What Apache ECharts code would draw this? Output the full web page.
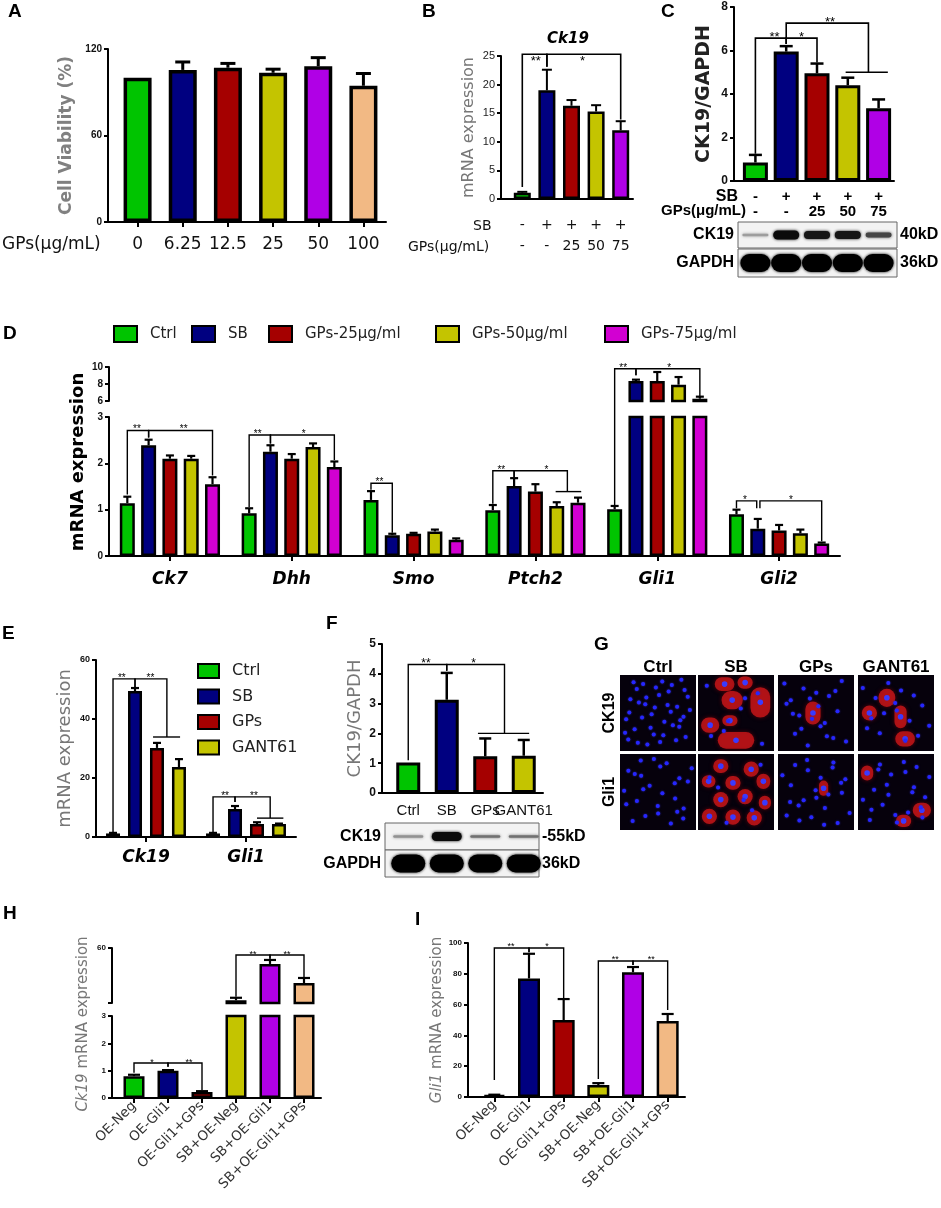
<!DOCTYPE html>
<html>
<head>
<meta charset="utf-8">
<script src="https://cdn.jsdelivr.net/npm/echarts@6/dist/echarts.min.js"></script>
<style>
html, body { margin: 0; padding: 0; background: #fff; }
#main { width: 941px; height: 1208px; }
</style>
</head>
<body>
<div id="main"></div>
<script>
var GREEN = '#00c400', NAVY = '#000080', RED = '#a50000', OLIVE = '#c4c400',
    PURPLE = '#b000e6', MAGENTA = '#d200d2', PEACH = '#f2b984';
var SANS = 'Liberation Sans, Arial, sans-serif';
var WIDE = 'DejaVu Sans, sans-serif';

// ---- A: cell viability
var doseA = ['0', '6.25', '12.5', '25', '50', '100'];
var viabA = [100, 105.5, 107, 103.5, 108, 94.5];
var viabSdA = [0, 5.5, 3, 2.5, 6, 8.5];

// ---- B: Ck19 mRNA
var sbB = ['-', '+', '+', '+', '+'];
var gpsB = ['-', '-', '25', '50', '75'];
var ck19B = [1.1, 19, 16.3, 15.3, 12];
var ck19SdB = [0.15, 3.6, 1.0, 1.1, 1.6];

// ---- C: CK19/GAPDH western
var ck19C = [0.85, 5.95, 4.95, 4.4, 3.35];
var ck19SdC = [0.35, 0.25, 0.45, 0.35, 0.4];
var bandCk19C = [0.3, 0.95, 0.9, 0.9, 0.7];
var bandGapdhC = [1, 1, 1, 1, 1];

// ---- D: hedgehog genes
var genesD = ['Ck7', 'Dhh', 'Smo', 'Ptch2', 'Gli1', 'Gli2'];
var groupsD = ['Ctrl', 'SB', 'GPs-25μg/ml', 'GPs-50μg/ml', 'GPs-75μg/ml'];
var ctrlD = [1.14, 0.92, 1.21, 0.99, 1.01, 0.9];
var sbD = [2.39, 2.25, 0.45, 1.51, 8.35, 0.59];
var gps25D = [2.1, 2.1, 0.48, 1.39, 8.35, 0.55];
var gps50D = [2.1, 2.35, 0.53, 1.08, 7.92, 0.49];
var gps75D = [1.55, 1.92, 0.35, 1.15, 6.27, 0.27];
var ctrlSdD = [0.14, 0.11, 0.19, 0.11, 0.07, 0.1];
var sbSdD = [0.12, 0.14, 0.03, 0.17, 0.16, 0.21];
var gps25SdD = [0.07, 0.1, 0.02, 0.16, 1.06, 0.12];
var gps50SdD = [0.06, 0.08, 0.04, 0.08, 0.9, 0.08];
var gps75SdD = [0.15, 0.12, 0.03, 0.11, 0.24, 0.02];

// ---- E: Ck19 / Gli1 with GANT61
var genesE = ['Ck19', 'Gli1'];
var groupsE = ['Ctrl', 'SB', 'GPs', 'GANT61'];
var ctrlE = [1.2, 1.2], sbE = [49.5, 9.5], gpsE = [30.2, 4.4], gantE = [23.7, 4.4];
var ctrlSdE = [0.2, 0.2], sbSdE = [1.0, 1.0], gpsSdE = [1.7, 0.6], gantSdE = [2.7, 0.15];

// ---- F: CK19/GAPDH western
var catsF = ['Ctrl', 'SB', 'GPs', 'GANT61'];
var ck19F = [1.02, 3.13, 1.23, 1.25];
var ck19SdF = [0, 0.9, 0.6, 0.53];
var bandCk19F = [0.35, 0.95, 0.5, 0.5];
var bandGapdhF = [1, 1, 1, 1];

// ---- H / I: Gli1 overexpression
var catsHI = ['OE-Neg', 'OE-Gli1', 'OE-Gli1+GPs', 'SB+OE-Neg', 'SB+OE-Gli1', 'SB+OE-Gli1+GPs'];
var ck19H = [0.8, 1.0, 0.22, 22, 48.4, 34.5];
var ck19SdH = [0.05, 0.02, 0.03, 1.8, 2.9, 3.7];
var gli1I = [1.2, 77, 50, 7.8, 81, 49.3];
var gli1SdI = [0.3, 16, 13.6, 1.2, 3.4, 4.6];

// significance brackets: points [category, value, subBar, gridOverride]
var sig = [
  {g: 1, pts: [[0, 2.1], [0, 25.3], [1, 25.3], [1, 23.1]], t: '**', at: [0.55, 24.0]},
  {g: 1, pts: [[1, 23.1], [1, 25.3], [4, 25.3], [4, 13.9]], t: '*', at: [2.45, 24.0]},
  {g: 2, pts: [[0, 1.25], [0, 6.57], [1, 6.57], [1, 6.3]], t: '**', at: [0.62, 6.6]},
  {g: 2, pts: [[1, 6.3], [1, 6.57], [2, 6.57], [2, 5.45]], t: '*', at: [1.5, 6.6]},
  {g: 2, pts: [[1, 6.57], [1, 7.26], [3.67, 7.26], [3.67, 5.0]], t: '**', at: [2.42, 7.3]},
  {g: 2, pts: [[2.93, 5.0], [4.3, 5.0]], t: ''},
  {g: 3, pts: [[0, 1.33, -2], [0, 2.71, -2], [0, 2.71, -1], [0, 2.56, -1]], t: '**', at: [0, 2.73, -1.55]},
  {g: 3, pts: [[0, 2.56, -1], [0, 2.71, -1], [0, 2.71, 2], [0, 1.74, 2]], t: '**', at: [0, 2.73, 0.65]},
  {g: 3, pts: [[1, 1.06, -2], [1, 2.61, -2], [1, 2.61, -1], [1, 2.43, -1]], t: '**', at: [1, 2.63, -1.6]},
  {g: 3, pts: [[1, 2.43, -1], [1, 2.61, -1], [1, 2.61, 2], [1, 2.07, 2]], t: '*', at: [1, 2.63, 0.56]},
  {g: 3, pts: [[2, 1.43, -2], [2, 1.57, -2], [2, 1.57, -1], [2, 0.5, -1]], t: '**', at: [2, 1.59, -1.6]},
  {g: 3, pts: [[3, 1.13, -2], [3, 1.84, -2], [3, 1.84, -1], [3, 1.7, -1]], t: '**', at: [3, 1.86, -1.6]},
  {g: 3, pts: [[3, 1.7, -1], [3, 1.84, -1], [3, 1.84, 1.5], [3, 1.39, 1.5]], t: '*', at: [3, 1.86, 0.52]},
  {g: 3, pts: [[3, 1.39, 0.95], [3, 1.39, 2.15]], t: ''},
  {g: 4, pts: [[4, 1.1, -2, 3], [4, 9.8, -2], [4, 9.8, -1], [4, 9.02, -1]], t: '**', at: [4, 9.85, -1.6]},
  {g: 4, pts: [[4, 9.02, -1], [4, 9.8, -1], [4, 9.8, 2], [4, 6.6, 2]], t: '*', at: [4, 9.85, 0.56]},
  {g: 3, pts: [[5, 1.03, -2], [5, 1.19, -2], [5, 1.19, -1.05], [5, 1.03, -1.05]], t: '*', at: [5, 1.21, -1.6]},
  {g: 3, pts: [[5, 1.03, -0.9], [5, 1.19, -0.9], [5, 1.19, 2], [5, 0.32, 2]], t: '*', at: [5, 1.21, 0.56]},
  {g: 5, pts: [[0, 1.5, -1.5], [0, 53.6, -1.5], [0, 53.6, -0.5], [0, 50.8, -0.5]], t: '**', at: [0, 53.8, -1.1]},
  {g: 5, pts: [[0, 50.8, -0.5], [0, 53.6, -0.5], [0, 53.6, 0.95], [0, 33.9, 0.95]], t: '**', at: [0, 53.8, 0.2]},
  {g: 5, pts: [[0, 33.9, 0.32], [0, 33.9, 1.55]], t: ''},
  {g: 5, pts: [[1, 1.5, -1.5], [1, 13.6, -1.5], [1, 13.6, -0.5], [1, 11.9, -0.5]], t: '**', at: [1, 13.8, -0.95]},
  {g: 5, pts: [[1, 11.9, -0.5], [1, 13.6, -0.5], [1, 13.6, 1.1], [1, 6.4, 1.1]], t: '**', at: [1, 13.8, 0.36]},
  {g: 5, pts: [[1, 6.4, 0.5], [1, 6.4, 1.7]], t: ''},
  {g: 6, pts: [[0, 1.1], [0, 4.31], [1, 4.31], [1, 4.1]], t: '**', at: [0.46, 4.33]},
  {g: 6, pts: [[1, 4.1], [1, 4.31], [2.5, 4.31], [2.5, 2.0]], t: '*', at: [1.7, 4.33]},
  {g: 6, pts: [[1.81, 2.0], [3.14, 2.0]], t: ''},
  {g: 7, pts: [[0, 0.92], [0, 1.28], [1, 1.28], [1, 1.14]], t: '*', at: [0.53, 1.3]},
  {g: 7, pts: [[1, 1.14], [1, 1.28], [2, 1.28], [2, 0.28]], t: '**', at: [1.62, 1.3]},
  {g: 8, pts: [[3, 24.6], [3, 54.9], [4, 54.9], [4, 52.2]], t: '**', at: [3.5, 55.5]},
  {g: 8, pts: [[4, 52.2], [4, 54.9], [5, 54.9], [5, 38.9]], t: '**', at: [4.5, 55.5]},
  {g: 9, pts: [[0, 11], [0, 96.8], [1, 96.8], [1, 94]], t: '**', at: [0.48, 97.5]},
  {g: 9, pts: [[1, 94], [1, 96.8], [2, 96.8], [2, 64]], t: '*', at: [1.52, 97.5]},
  {g: 9, pts: [[3, 11.7], [3, 88.3], [4, 88.3], [4, 85.7]], t: '**', at: [3.49, 89]},
  {g: 9, pts: [[4, 85.7], [4, 88.3], [5, 88.3], [5, 56.5]], t: '**', at: [4.53, 89]}
];

// layout
var GRIDS = [
  [115, 49, 271, 173],   // 0 A
  [510, 56, 123, 143],   // 1 B
  [740, 7, 154, 174],    // 2 C
  [109, 417, 731, 139],  // 3 D lower
  [109, 367, 731, 34],   // 4 D upper
  [96, 660, 200, 177],   // 5 E
  [389, 644, 154, 149],  // 6 F
  [117, 1016, 204, 82],  // 7 H lower
  [117, 948, 204, 55],   // 8 H upper
  [477, 943, 208, 154]   // 9 I
];
var YOFF = [7, 9, 6, 0, 0, 0, 7, 5, 5, 9];
var D_BW = 15, D_GAP = 0.42, E_BW = 14, E_GAP = 0.57;
var SUB = {3: D_BW * (1 + D_GAP), 4: D_BW * (1 + D_GAP), 5: E_BW * (1 + E_GAP)};
var STAR = {1: 13, 2: 13, 3: 10, 4: 10, 5: 10, 6: 12, 7: 9, 8: 9, 9: 9};

function font(size, weight, style, fam) {
  return (style || 'normal') + ' ' + (weight || 'normal') + ' ' + size + 'px ' + (fam || SANS);
}

function catAxis(g, data, label, tick) {
  return {
    type: 'category', gridIndex: g, data: data,
    axisLine: {show: true, lineStyle: {color: '#000', width: 2}},
    axisTick: {show: !!tick, length: 5, alignWithLabel: true, lineStyle: {color: '#000', width: 2}},
    axisLabel: Object.assign({interval: 0, hideOverlap: false, color: '#111'}, label),
    splitLine: {show: false}
  };
}
function valAxis(g, min, max, step, label, extra) {
  return Object.assign({
    type: 'value', gridIndex: g, min: min, max: max, interval: step, offset: YOFF[g],
    axisLine: {show: true, lineStyle: {color: '#000', width: 2}},
    axisTick: {show: true, length: 4, lineStyle: {color: '#000', width: 2}},
    axisLabel: Object.assign({margin: 6, color: '#111', fontWeight: 'bold', fontFamily: SANS}, label),
    splitLine: {show: false}
  }, extra || {});
}
function yName(name, gap, size, color, weight) {
  return {
    name: name, nameLocation: 'middle', nameRotate: 90, nameGap: gap,
    nameTextStyle: {fontFamily: WIDE, fontSize: size, color: color, fontWeight: weight || 'normal',
      rich: {i: {fontFamily: WIDE, fontSize: size, color: color, fontStyle: 'italic'}}}
  };
}
function colored(vals, colors) {
  return vals.map(function (v, i) { return {value: v, itemStyle: {color: colors[i]}}; });
}
function bar(g, name, data, color, bw, bwidth, gap) {
  var s = {
    type: 'bar', name: name, xAxisIndex: g, yAxisIndex: g, data: data, barWidth: bw,
    itemStyle: {borderColor: '#000', borderWidth: bwidth}, z: 2, silent: true
  };
  if (color) s.itemStyle.color = color;
  if (gap) s.barGap = gap;
  return s;
}
function errs(g, means, sds, off, cap, lw, keep) {
  var rows = [];
  for (var i = 0; i < means.length; i++) {
    if (sds[i] > 0 && (!keep || keep(means[i], sds[i]))) rows.push([i, means[i], means[i] + sds[i]]);
  }
  return {
    type: 'custom', xAxisIndex: g, yAxisIndex: g, z: 4, silent: true, data: rows,
    renderItem: function (params, api) {
      var a = api.coord([api.value(0), api.value(1)]);
      var b = api.coord([api.value(0), api.value(2)]);
      var x = a[0] + off;
      return {type: 'group', children: [
        {type: 'line', shape: {x1: x, y1: a[1], x2: x, y2: b[1]}, style: {stroke: '#000', lineWidth: lw}},
        {type: 'line', shape: {x1: x - cap / 2, y1: b[1], x2: x + cap / 2, y2: b[1]}, style: {stroke: '#000', lineWidth: lw}}
      ]};
    }
  };
}

var colA = [GREEN, NAVY, RED, OLIVE, PURPLE, PEACH];
var colB = [GREEN, NAVY, RED, OLIVE, PURPLE];
var colD = [GREEN, NAVY, RED, OLIVE, MAGENTA];
var colE = [GREEN, NAVY, RED, OLIVE];

var seriesD = [ctrlD, sbD, gps25D, gps50D, gps75D];
var sdD = [ctrlSdD, sbSdD, gps25SdD, gps50SdD, gps75SdD];
var seriesE = [ctrlE, sbE, gpsE, gantE];
var sdE = [ctrlSdE, sbSdE, gpsSdE, gantSdE];

var series = [];
series.push(bar(0, 'A', colored(viabA, colA), null, 28, 3.5));
series.push(errs(0, viabA, viabSdA, 0, 15, 3));
series.push(bar(1, 'B', colored(ck19B, colB), null, 17, 2.5));
series.push(errs(1, ck19B, ck19SdB, 0, 10, 2));
series.push(bar(2, 'C', colored(ck19C, colB), null, 25, 3));
series.push(errs(2, ck19C, ck19SdC, 0, 13, 2.5));
seriesD.forEach(function (vals, k) {
  var off = (k - 2) * SUB[3];
  series.push(bar(3, groupsD[k], vals, colD[k], D_BW, 2.5, (D_GAP * 100) + '%'));
  series.push(bar(4, groupsD[k], vals, colD[k], D_BW, 2.5, (D_GAP * 100) + '%'));
  series.push(errs(3, vals, sdD[k], off, 8, 2.2, function (m, s) { return m + s <= 3; }));
  series.push(errs(4, vals, sdD[k], off, 8, 2.2, function (m) { return m >= 6; }));
});
seriesE.forEach(function (vals, k) {
  series.push(bar(5, groupsE[k], vals, colE[k], E_BW, 2.5, (E_GAP * 100) + '%'));
  series.push(errs(5, vals, sdE[k], (k - 1.5) * SUB[5], 8, 2.2));
});
series.push(bar(6, 'F', colored(ck19F, colE), null, 24, 3));
series.push(errs(6, ck19F, ck19SdF, 0, 12, 2.5));
series.push(bar(7, 'H', colored(ck19H, colA), null, 21, 2.5));
series.push(bar(8, 'H', colored(ck19H, colA), null, 21, 2.5));
series.push(errs(7, ck19H, ck19SdH, 0, 12, 2.2, function (m) { return m <= 3; }));
series.push(errs(8, ck19H, ck19SdH, 0, 12, 2.2, function (m) { return m >= 20; }));
series.push(bar(9, 'I', colored(gli1I, colA), null, 22, 2.5));
series.push(errs(9, gli1I, gli1SdI, 0, 12, 2.2));

var hideX = function (ax) { ax.show = false; return ax; };
var rotLabel = {rotate: 45, margin: 6, fontSize: 13.5, fontFamily: WIDE, color: '#333'};

var legendText = {fontFamily: WIDE, color: '#222', padding: [0, 0, 0, 8]};
var legX = [113, 191, 268, 435, 604];
var legends = groupsD.map(function (n, k) {
  return {data: [n], left: legX[k], top: 325, padding: 0, itemWidth: 23, itemHeight: 16,
    icon: 'rect', selectedMode: false, textStyle: Object.assign({fontSize: 15}, legendText)};
});
legends.push({data: groupsE, orient: 'vertical', left: 197, top: 663, padding: 0, itemWidth: 21, itemHeight: 14,
  itemGap: 9.5, icon: 'rect', selectedMode: false, textStyle: Object.assign({fontSize: 16}, legendText)});

var option = {
  animation: false,
  backgroundColor: '#fff',
  grid: GRIDS.map(function (g) {
    return {left: g[0], top: g[1], width: g[2], height: g[3], containLabel: false, outerBoundsMode: 'none'};
  }),
  legend: legends,
  xAxis: [
    catAxis(0, doseA, {fontSize: 17, fontFamily: WIDE, margin: 14}, true),
    catAxis(1, sbB.map(function (s, i) { return s + '\n' + gpsB[i]; }),
      {fontSize: 14, fontFamily: WIDE, lineHeight: 21, margin: 16}),
    catAxis(2, sbB.map(function (s, i) { return s + '\n' + gpsB[i]; }),
      {fontSize: 15, fontFamily: SANS, fontWeight: 'bold', lineHeight: 14.5, margin: 9, color: '#000'}),
    catAxis(3, genesD, {fontSize: 17, fontFamily: WIDE, fontWeight: 'bold', fontStyle: 'italic', margin: 15, color: '#000'}, true),
    hideX(catAxis(4, genesD, {})),
    catAxis(5, genesE, {fontSize: 17, fontFamily: WIDE, fontWeight: 'bold', fontStyle: 'italic', margin: 12, color: '#000'}, true),
    catAxis(6, catsF, {fontSize: 15, fontFamily: SANS, margin: 10}),
    catAxis(7, catsHI, rotLabel, true),
    hideX(catAxis(8, catsHI, {})),
    catAxis(9, catsHI, rotLabel, true)
  ],
  yAxis: [
    valAxis(0, 0, 120, 60, {fontSize: 10}, yName('Cell Viability (%)', 33, 17, '#808080', 'bold')),
    valAxis(1, 0, 25, 5, {fontSize: 11, fontWeight: 'normal', color: '#222'}, yName('mRNA expression', 24, 16, '#777')),
    valAxis(2, 0, 8, 2, {fontSize: 12}, yName('CK19/GAPDH', 20, 19, '#222', 'bold')),
    valAxis(3, 0, 3, 1, {fontSize: 10}),
    valAxis(4, 6, 10, 2, {fontSize: 10}),
    valAxis(5, 0, 60, 20, {fontSize: 9}, yName('mRNA expression', 22, 18, '#777')),
    valAxis(6, 0, 5, 1, {fontSize: 12}, yName('CK19/GAPDH', 18, 18, '#777')),
    valAxis(7, 0, 3, 1, {fontSize: 8}),
    valAxis(8, 20, 60, 40, {fontSize: 8, formatter: function (v) { return v === 60 ? '60' : ''; }}),
    valAxis(9, 0, 100, 20, {fontSize: 8}, yName('{i|Gli1} mRNA expression', 19, 15, '#777'))
  ],
  series: series
};

var chart = echarts.init(document.getElementById('main'));
chart.setOption(option);

// ---------- second pass: annotations drawn from the axes' own scales
var els = [];
function px(g, c, v, s) {
  var f = {xAxisIndex: g, yAxisIndex: g};
  var p0 = chart.convertToPixel(f, [0, v]);
  var p1 = chart.convertToPixel(f, [1, v]);
  return [p0[0] + c * (p1[0] - p0[0]) + (s || 0) * (SUB[g] || 0), p0[1]];
}
function T(x, y, s, f, o) {
  o = o || {};
  els.push({type: 'text', x: x, y: y, rotation: o.rot || 0, silent: true, z: 10,
    style: {text: s, font: f, fill: o.fill || '#000', textAlign: o.align || 'left',
      textVerticalAlign: o.va || 'middle', rich: o.rich}});
}
function L(pts, lw) {
  els.push({type: 'polyline', silent: true, z: 6, shape: {points: pts},
    style: {stroke: '#000', lineWidth: lw, fill: null}});
}

// panel letters
[['A', 8, 2], ['B', 422, 2], ['C', 661, 2], ['D', 3, 324], ['E', 2, 624], ['F', 326, 614],
 ['G', 594, 635], ['H', 3, 904], ['I', 415, 910]].forEach(function (p) {
  T(p[1], p[2], p[0], font(19, 'bold'), {va: 'top'});
});

// x-axis joins where the y axis sits off the category band
GRIDS.forEach(function (g, i) {
  if (YOFF[i] && i !== 8) L([[g[0] - YOFF[i], g[1] + g[3]], [g[0] + 1, g[1] + g[3]]], 2);
});

// significance brackets
sig.forEach(function (b) {
  var pts = b.pts.map(function (p) { return px(p[3] != null ? p[3] : b.g, p[0], p[1], p[2]); });
  L(pts, b.g <= 2 ? 1.6 : 1.4);
  if (b.t) {
    var tp = px(b.g, b.at[0], b.at[1], b.at[2]);
    T(tp[0], tp[1], b.t, font(STAR[b.g]), {align: 'center'});
  }
});

// row / title texts
T(2, 245, 'GPs(μg/mL)', font(17, 'normal', 'normal', WIDE), {fill: '#111'});
T(568, 39, 'Ck19', font(15, 'bold', 'italic', WIDE), {align: 'center'});
T(473, 226, 'SB', font(14, 'normal', 'normal', WIDE), {fill: '#111'});
T(408, 247, 'GPs(μg/mL)', font(14, 'normal', 'normal', WIDE), {fill: '#111'});
T(738, 197, 'SB', font(16, 'bold'), {align: 'right'});
T(746, 211, 'GPs(μg/mL)', font(15, 'bold'), {align: 'right'});
T(78, 462, 'mRNA expression', font(18, 'bold', 'normal', WIDE), {align: 'center', rot: Math.PI / 2});
T(83, 1024, '{i|Ck19} mRNA expression', font(15, 'normal', 'normal', WIDE),
  {align: 'center', rot: Math.PI / 2, fill: '#777',
   rich: {i: {font: font(15, 'normal', 'italic', WIDE), fill: '#777'}}});

// western blots
function blot(g, x0, x1, y0, h, dark, rx, ryMax, label, kd) {
  els.push({type: 'rect', silent: true, shape: {x: x0, y: y0, width: x1 - x0, height: h},
    style: {fill: '#f3f3f3', stroke: '#666', lineWidth: 1}});
  dark.forEach(function (d, i) {
    var cx = px(g, i, 0)[0], ry = Math.max(1.2, ryMax * d * d), c = Math.round(225 * (1 - d));
    var col = 'rgb(' + c + ',' + c + ',' + c + ')';
    els.push({type: 'rect', silent: true, z: 3,
      shape: {x: cx - rx, y: y0 + h / 2 - ry, width: rx * 2, height: ry * 2, r: ry},
      style: {fill: col, shadowBlur: 3, shadowColor: col}});
  });
  T(x0 - 4, y0 + h / 2, label, font(16, 'bold'), {align: 'right'});
  T(x1 + 3, y0 + h / 2, kd, font(16, 'bold'));
}
blot(2, 738, 897, 222, 26, bandCk19C, 13, 5, 'CK19', '40kD');
blot(2, 738, 897, 249, 28, bandGapdhC, 15, 9, 'GAPDH', '36kD');
blot(6, 385, 539, 823, 27, bandCk19F, 15, 5, 'CK19', '-55kD');
blot(6, 385, 539, 850, 27, bandGapdhF, 17, 9, 'GAPDH', '36kD');

// immunofluorescence panel G
var ifCols = ['Ctrl', 'SB', 'GPs', 'GANT61'];
var ifRows = ['CK19', 'Gli1'];
var IF_X = [620, 698, 778, 858], IF_Y = [675, 754], IF_S = 76;
var nucleiN = [[40, 8, 22, 16], [26, 6, 24, 22]];
var redCells = [
  [[], [[.35, .12, .13, .09], [.62, .1, .1, .08], [.45, .33, .14, .12], [.82, .36, .13, .2], [.16, .66, .12, .1],
        [.42, .6, .1, .07], [.5, .86, .24, .11]],
   [[.46, .5, .1, .15]],
   [[.38, .3, .11, .12], [.15, .5, .1, .1], [.56, .55, .08, .15], [.62, .84, .13, .1]]],
  [[], [[.3, .16, .1, .09], [.7, .2, .1, .1], [.14, .36, .09, .08], [.46, .38, .1, .09], [.86, .36, .09, .1],
        [.3, .6, .1, .1], [.62, .56, .1, .1], [.88, .64, .08, .09], [.15, .82, .1, .1], [.46, .83, .1, .1], [.74, .84, .1, .1]],
   [[.6, .45, .06, .1]],
   [[.12, .25, .08, .1], [.84, .74, .12, .1], [.6, .88, .1, .08]]]
];
function halton(i, b) { var f = 1, r = 0; while (i > 0) { f /= b; r += f * (i % b); i = Math.floor(i / b); } return r; }
ifRows.forEach(function (rn, r) {
  ifCols.forEach(function (cn, c) {
    var x0 = IF_X[c], y0 = IF_Y[r];
    els.push({type: 'rect', silent: true, shape: {x: x0, y: y0, width: IF_S, height: IF_S}, style: {fill: '#06010c'}});
    redCells[r][c].forEach(function (cell) {
      var cx = x0 + cell[0] * IF_S, cy = y0 + cell[1] * IF_S, rx = cell[2] * IF_S, ry = cell[3] * IF_S;
      els.push({type: 'rect', silent: true, z: 2, shape: {x: cx - rx, y: cy - ry, width: rx * 2, height: ry * 2, r: Math.min(rx, ry)},
        style: {fill: 'rgba(190,20,24,0.88)', shadowBlur: 4, shadowColor: 'rgba(160,10,10,0.6)'}});
      els.push({type: 'circle', silent: true, z: 3, shape: {cx: cx, cy: cy, r: 2.8}, style: {fill: '#3a3aff'}});
    });
    var seed = (r * 4 + c) * 61 + 7;
    for (var k = 0; k < nucleiN[r][c]; k++) {
      els.push({type: 'circle', silent: true, z: 3,
        shape: {cx: x0 + 4 + (IF_S - 8) * halton(seed + k, 2), cy: y0 + 4 + (IF_S - 8) * halton(seed + k, 3), r: 2},
        style: {fill: '#2626ff', shadowBlur: 2, shadowColor: '#3030c0'}});
    }
  });
});
ifCols.forEach(function (n, c) { T(IF_X[c] + IF_S / 2, 667, n, font(17, 'bold'), {align: 'center'}); });
ifRows.forEach(function (n, r) { T(610, IF_Y[r] + IF_S / 2, n, font(16, 'bold'), {align: 'center', rot: Math.PI / 2}); });

chart.setOption({graphic: {elements: els}});
</script>
</body>
</html>
